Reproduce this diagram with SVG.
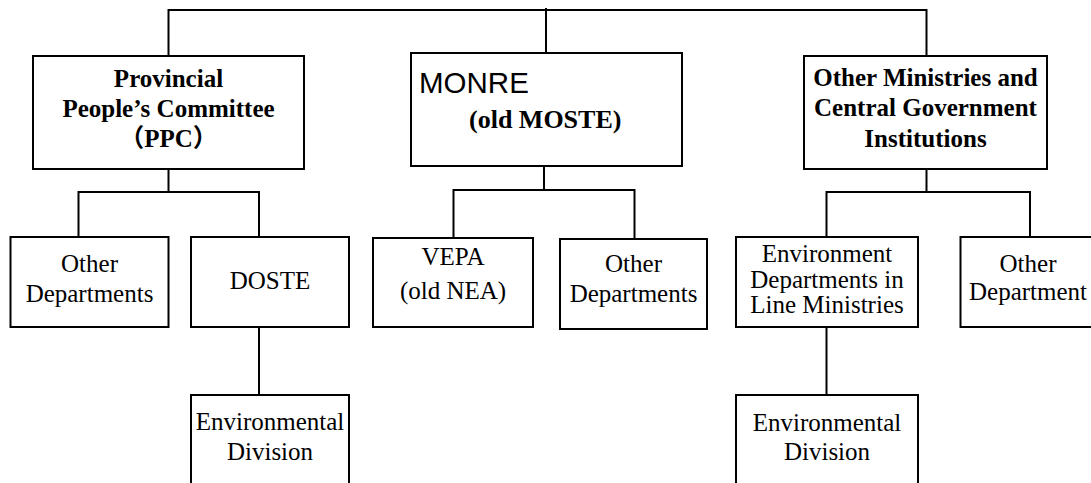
<svg xmlns="http://www.w3.org/2000/svg" width="1091" height="483" viewBox="0 0 1091 483">
<style>
.box{fill:#fff;stroke:#000;stroke-width:2}
.ln{fill:none;stroke:#000;stroke-width:2}
.t{font-family:"Liberation Serif","Times New Roman",serif;font-size:25px;fill:#000;text-anchor:middle}
.b{font-family:"Liberation Serif","Times New Roman","Noto Sans CJK SC",serif;font-size:25px;font-weight:bold;fill:#000;text-anchor:middle}
.s{font-family:"Liberation Sans",Arial,sans-serif;font-size:29.5px;fill:#000}
</style>
<rect width="1091" height="483" fill="#fff"/>
<g id="connectors">
<polyline class="ln" points="168.5,56 168.5,10 926.5,10 926.5,56"/>
<line class="ln" x1="546" y1="8" x2="546" y2="53"/>
<polyline class="ln" points="78.5,237 78.5,192 259,192 259,237"/>
<line class="ln" x1="168.5" y1="169" x2="168.5" y2="192"/>
<line class="ln" x1="259" y1="327" x2="259" y2="395"/>
<polyline class="ln" points="453.5,238 453.5,190 634.5,190 634.5,239"/>
<line class="ln" x1="544" y1="166" x2="544" y2="190"/>
<polyline class="ln" points="826.5,237 826.5,192 1030,192 1030,237"/>
<line class="ln" x1="926.5" y1="169" x2="926.5" y2="192"/>
<line class="ln" x1="826.5" y1="327" x2="826.5" y2="395"/>
</g>
<g id="ppc">
<rect class="box" x="33" y="56" width="271" height="113"/>
<text class="b" x="168.5" y="87">Provincial</text>
<text class="b" x="168.5" y="117">People’s Committee</text>
<text class="b" x="168.5" y="147">（PPC）</text>
</g>
<g id="monre">
<rect class="box" x="411" y="53" width="271" height="113"/>
<text class="s" x="419" y="93">MONRE</text>
<text class="b" x="469" y="128" style="text-anchor:start;font-size:26px">(old MOSTE)</text>
</g>
<g id="other-ministries">
<rect class="box" x="804" y="56" width="243" height="113"/>
<text class="b" x="925.5" y="86">Other Ministries and</text>
<text class="b" x="925.5" y="116">Central Government</text>
<text class="b" x="925.5" y="147">Institutions</text>
</g>
<g id="ppc-other">
<rect class="box" x="10.5" y="237" width="158" height="90"/>
<text class="t" x="89.5" y="272">Other</text>
<text class="t" x="89.5" y="302">Departments</text>
</g>
<g id="doste">
<rect class="box" x="191" y="237" width="158" height="90"/>
<text class="t" x="270" y="289">DOSTE</text>
</g>
<g id="doste-env">
<rect class="box" x="191" y="395" width="158" height="100"/>
<text class="t" x="270" y="430">Environmental</text>
<text class="t" x="270" y="459.5">Division</text>
</g>
<g id="vepa">
<rect class="box" x="373" y="238" width="160" height="89"/>
<text class="t" x="453" y="265">VEPA</text>
<text class="t" x="453" y="299">(old NEA)</text>
</g>
<g id="monre-other">
<rect class="box" x="560" y="239" width="147" height="90"/>
<text class="t" x="633.5" y="272">Other</text>
<text class="t" x="633.5" y="301.5">Departments</text>
</g>
<g id="env-dept">
<rect class="box" x="736" y="237" width="182" height="90"/>
<text class="t" x="827" y="262">Environment</text>
<text class="t" x="827" y="287.5">Departments in</text>
<text class="t" x="827" y="313">Line Ministries</text>
</g>
<g id="other-dept">
<rect class="box" x="960.5" y="237" width="140" height="90"/>
<text class="t" x="1028" y="272">Other</text>
<text class="t" x="1028" y="300">Department</text>
</g>
<g id="env-div-right">
<rect class="box" x="736" y="395" width="182" height="100"/>
<text class="t" x="827" y="430.5">Environmental</text>
<text class="t" x="827" y="460">Division</text>
</g>
</svg>
